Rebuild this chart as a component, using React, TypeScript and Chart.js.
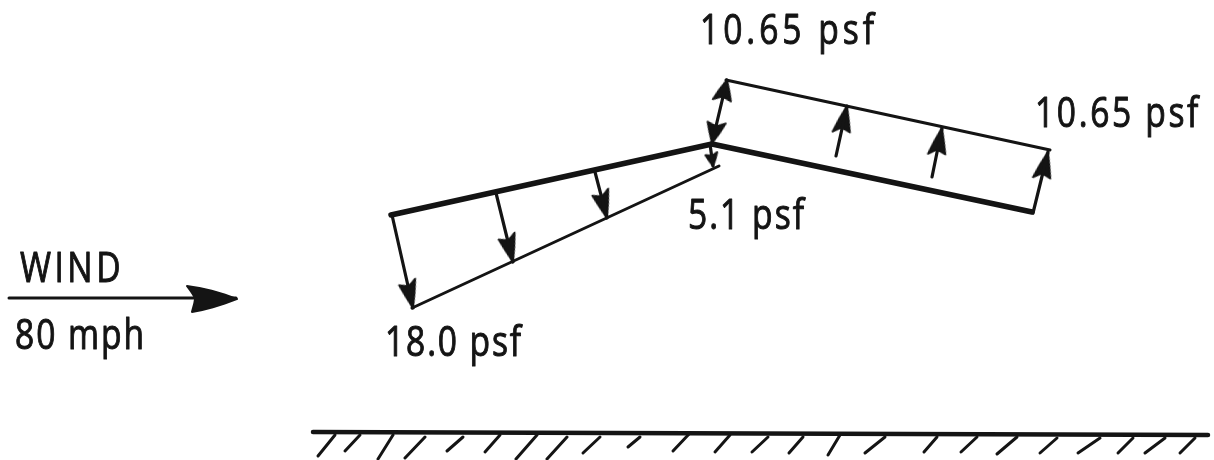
import React, { useEffect, useRef } from "react";
import { Chart, registerables } from "chart.js";

Chart.register(...registerables);

// Roof outline and load envelopes (x, y in picture units)
const roofX = [391, 712, 1032];
const roofY = [215, 144, 212];
const leftLoadX = [412, 719];
const leftLoadY = [308, 166];
const rightLoadX = [726, 1050];
const rightLoadY = [80, 150];
const windX = [9, 236];
const windY = [298, 298];
const groundX = [313, 1208];
const groundY = [432, 435];

// Load arrows: tail -> tip
const arrowTailX = [392, 496, 595, 836, 932, 1033];
const arrowTailY = [215, 193, 172, 156, 177, 213];
const arrowTipX = [413, 513, 607, 847, 942, 1048];
const arrowTipY = [308, 262, 218, 106, 128, 152];

// Double-headed and small arrows at the ridge
const doubleTailX = [719];
const doubleTailY = [112];
const doubleEndX = [727, 712];
const doubleEndY = [80, 143];
const smallTailX = [710];
const smallTailY = [144];
const smallTipX = [713];
const smallTipY = [166];

// Ground hatching
const hatchTopX = [335, 360, 393, 425, 463, 500, 537, 567, 600, 640, 690, 730, 768, 803, 840, 885, 937, 977, 1017, 1057, 1100, 1133, 1165, 1195];
const hatchTopY = [435, 435, 435, 437, 437, 435, 435, 437, 437, 437, 433, 435, 437, 437, 435, 437, 437, 437, 437, 438, 438, 438, 438, 438];
const hatchEndX = [318, 345, 378, 405, 447, 485, 516, 547, 583, 628, 673, 715, 752, 789, 828, 865, 924, 961, 997, 1040, 1078, 1118, 1145, 1180];
const hatchEndY = [456, 451, 459, 458, 451, 452, 459, 459, 453, 447, 451, 452, 452, 453, 455, 453, 452, 452, 454, 453, 453, 453, 453, 453];

// Text labels
const labelText = ["10.65 psf", "10.65 psf", "5.1 psf", "18.0 psf", "WIND", "80 mph"];
const labelX = [700, 1035, 688, 385, 20, 15];
const labelY = [44, 127, 229, 356, 282, 349];
const labelWidth = [178, 166, 118, 138, 104, 131];

const INK = "#141414";
const GLYPH_SQUEEZE = 0.8;

function makeHead(len: number, width: number, body: number, notch: number): HTMLCanvasElement {
  const size = Math.ceil(len * 2 + 6);
  const c = document.createElement("canvas");
  c.width = size;
  c.height = size;
  const g = c.getContext("2d") as CanvasRenderingContext2D;
  const m = size / 2;
  g.fillStyle = INK;
  g.strokeStyle = INK;
  g.lineJoin = "round";
  g.lineWidth = 2;
  g.beginPath();
  g.moveTo(m, m);
  g.quadraticCurveTo(m + width * body, m + len * 0.5, m + width / 2, m + len * 0.9);
  g.quadraticCurveTo(m + width * 0.1, m + len * notch, m, m + len * notch);
  g.quadraticCurveTo(m - width * 0.1, m + len * notch, m - width / 2, m + len);
  g.quadraticCurveTo(m - width * body, m + len * 0.5, m, m);
  g.closePath();
  g.fill();
  g.stroke();
  return c;
}

const zip = (xs: number[], ys: number[]) => xs.map((x, i) => ({ x, y: ys[i] }));

const line = (data: { x: number; y: number }[], width: number) => ({
  type: "line" as const,
  data,
  borderColor: INK,
  borderWidth: width,
  borderCapStyle: "round" as const,
  borderJoinStyle: "round" as const,
  pointRadius: 0,
  tension: 0,
  fill: false,
});

const segments = (x0: number[], y0: number[], x1: number[], y1: number[], width: number) =>
  x0.map((x, i) =>
    line(
      [
        { x, y: y0[i] },
        { x: x1[i], y: y1[i] },
      ],
      width,
    ),
  );

const angle = (x0: number, y0: number, x1: number, y1: number) =>
  (Math.atan2(x1 - x0, -(y1 - y0)) * 180) / Math.PI;

const heads = (data: { x: number; y: number }[], img: HTMLCanvasElement, rot: number[]) => ({
  type: "scatter" as const,
  data,
  showLine: false,
  pointStyle: img,
  pointRadius: 1,
  pointRotation: rot,
});

const labelPlugin = {
  id: "labels",
  afterDatasetsDraw(chart: any) {
    const { ctx, scales } = chart;
    ctx.fillStyle = INK;
    ctx.strokeStyle = INK;
    ctx.lineWidth = 1;
    ctx.lineJoin = "round";
    ctx.textBaseline = "alphabetic";
    ctx.textAlign = "left";
    ctx.font = '42px "Open Sans"';
    labelText.forEach((t, i) => {
      ctx.save();
      ctx.letterSpacing = "0px";
      const natural = ctx.measureText(t).width;
      const extra = (labelWidth[i] / GLYPH_SQUEEZE - natural) / t.length;
      ctx.letterSpacing = `${extra}px`;
      ctx.translate(scales.x.getPixelForValue(labelX[i]), scales.y.getPixelForValue(labelY[i]));
      ctx.scale(GLYPH_SQUEEZE, 1);
      ctx.fillText(t, 0, 0);
      ctx.strokeText(t, 0, 0);
      ctx.restore();
    });
  },
};

export default function App() {
  const ref = useRef<HTMLCanvasElement>(null);
  useEffect(() => {
    const bigHead = makeHead(28, 17, 0.3, 0.8);
    const midHead = makeHead(22, 18, 0.3, 0.8);
    const smallHead = makeHead(13, 12, 0.3, 0.8);
    const windHead = makeHead(50, 26, 0.38, 0.84);
    const chart = new Chart(ref.current as HTMLCanvasElement, {
      type: "line",
      data: {
        datasets: [
          line(zip(roofX, roofY), 5.5),
          line(zip(leftLoadX, leftLoadY), 3),
          line(zip(rightLoadX, rightLoadY), 3),
          line(zip(windX, windY), 3),
          line(zip(groundX, groundY), 4.5),
          ...segments(arrowTailX, arrowTailY, arrowTipX, arrowTipY, 3.2),
          line(zip(doubleEndX, doubleEndY), 3.2),
          ...segments(smallTailX, smallTailY, smallTipX, smallTipY, 3.2),
          ...segments(hatchTopX, hatchTopY, hatchEndX, hatchEndY, 3),
          heads(
            zip(arrowTipX, arrowTipY),
            bigHead,
            arrowTipX.map((x, i) => angle(arrowTailX[i], arrowTailY[i], x, arrowTipY[i])),
          ),
          heads(
            zip(doubleEndX, doubleEndY),
            midHead,
            doubleEndX.map((x, i) => angle(doubleTailX[0], doubleTailY[0], x, doubleEndY[i])),
          ),
          heads(
            zip(smallTipX, smallTipY),
            smallHead,
            smallTipX.map((x, i) => angle(smallTailX[i], smallTailY[i], x, smallTipY[i])),
          ),
          heads([{ x: windX[1] + 1, y: windY[1] + 1 }], windHead, [90]),
        ] as any,
      },
      options: {
        responsive: false,
        animation: false,
        layout: { padding: 0, autoPadding: false },
        parsing: false,
        normalized: true,
        scales: {
          x: { type: "linear", min: 0, max: 1214, display: false },
          y: { type: "linear", min: 0, max: 460, reverse: true, display: false },
        },
        plugins: { legend: { display: false }, tooltip: { enabled: false } },
      } as any,
      plugins: [labelPlugin],
    });
    return () => chart.destroy();
  }, []);
  return (
    <div style={{ position: "fixed", left: 0, top: 0, width: 1214, height: 460, background: "#fff" }}>
      <canvas ref={ref} width={1214} height={460} style={{ display: "block" }} />
    </div>
  );
}
